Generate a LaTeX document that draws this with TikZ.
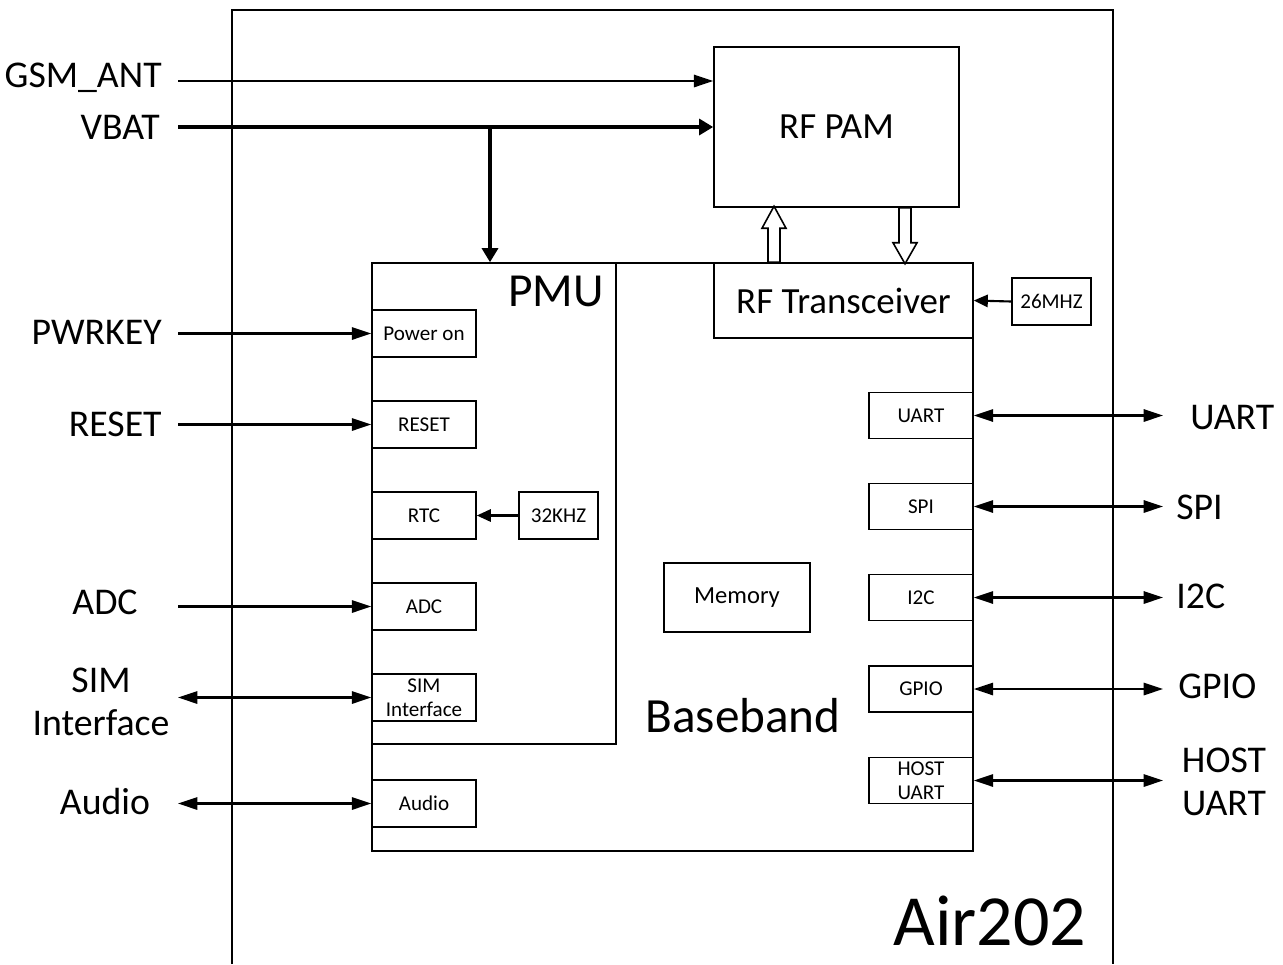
\documentclass[tikz,border=0pt]{standalone}
\usepackage{fontspec}
\setmainfont{Carlito}
\usetikzlibrary{arrows.meta}

\newcommand{\fsz}[2]{\fontsize{#1}{#2}\selectfont}

\begin{document}
\begin{tikzpicture}[x=0.02cm, y=-0.02cm,
	box/.style={draw, line width=0.9pt, fill=white, inner sep=0pt},
	sbox/.style={box, minimum width=2.08cm, minimum height=0.94cm, font=\fsz{12}{13.7}, align=center},
	lbl/.style={font=\fsz{21.5}{24.5}, align=center, inner sep=0pt},
	sig/.style={line width=1.2pt, -{Triangle[length=11pt,width=7pt]}},
	clk/.style={line width=1.2pt, -{Triangle[length=8pt,width=7pt]}},
	both/.style={line width=1.2pt, {Triangle[length=11pt,width=7pt]}-{Triangle[length=11pt,width=7pt]}},
	pwr/.style={line width=2.6pt, -{Triangle[length=8pt,width=9pt]}},
	hollow/.style={draw, line width=0.9pt, fill=white, line join=miter}]
	\useasboundingbox (0,0) rectangle (1283,964);

	% module outline, open at the bottom
	\draw[line width=0.9pt] (232,964) -- (232,10) -- (1113,10) -- (1113,964);
	\node[font=\fsz{41}{46}, inner sep=0pt] (air) at (990,921) {Air202};

	% baseband and pmu
	\node[box, minimum width=12.02cm, minimum height=11.76cm] (bb) at (672.5,557) {};
	\node[box, minimum width=4.88cm, minimum height=9.62cm] (pmu) at (494,503.5) {};
	\node[font=\fsz{27}{30}, inner sep=0pt] (pmulbl) at (556,291) {PMU};
	\node[font=\fsz{28}{32}, inner sep=0pt] (bblbl) at (743,716) {Baseband};
	\node[box, minimum width=2.92cm, minimum height=1.38cm, font=\fsz{14}{16}] (mem) at (737,597.5) {Memory};

	% rf part
	\node[box, minimum width=4.9cm, minimum height=3.2cm, font=\fsz{21}{25}] (pam) at (836.5,127) {RF PAM};
	\node[box, minimum width=5.18cm, minimum height=1.5cm, font=\fsz{21}{25}] (trx) at (843.5,300.5) {RF Transceiver};
	\node[sbox, minimum width=1.58cm, font=\fsz{12}{13.7}] (osc26) at (1051.5,301.5) {26MHZ};
	\draw[clk] (osc26.west) -- (trx.east);

	\coordinate (upx) at (774,0);
	\coordinate (dnx) at (905,0);
	\draw[hollow] (upx |- trx.north) ++(-6,0) -- ++(0,-34) -- ++(-6,0) -- ++(12,-22)
		-- ++(12,22) -- ++(-6,0) -- ++(0,34) -- cycle;
	\draw[hollow] (dnx |- pam.south) ++(-6,0) -- ++(0,35) -- ++(-6,0) -- ++(12,21)
		-- ++(12,-21) -- ++(-6,0) -- ++(0,-35) -- cycle;

	% pmu blocks
	\foreach \n/\y/\t in {pwron/333.5/Power on, rst/424.5/RESET, rtc/515.5/RTC,
		adc/606.5/ADC, sim/697.5/{SIM\\Interface}, audio/803.5/Audio} {
		\node[sbox] (\n) at (424,\y) {\t};
	}
	\node[sbox, minimum width=1.58cm] (osc32) at (558.5,515.5) {32KHZ};
	\draw[clk] (osc32.west) -- (rtc.east);

	% baseband interfaces
	\foreach \n/\y/\t in {uart/415.5/UART, spi/506.5/SPI, i2c/597.5/I2C,
		gpio/689/GPIO, host/780.5/{HOST\\UART}} {
		\node[sbox, minimum height=0.92cm] (\n) at (921,\y) {\t};
	}

	% pins on the left
	\coordinate (inx) at (178,0);
	\coordinate (outx) at (1163,0);
	\coordinate (gsm) at (178,81);
	\coordinate (vbat) at (178,127);
	\coordinate (vbr) at (490,127);
	\node[lbl, anchor=base east] (lgsm) at (162,87) {GSM\_ANT};
	\node[lbl, anchor=base east] (lvbat) at (160,139) {VBAT};
	\node[lbl, anchor=base east] (lpwr) at (162,344) {PWRKEY};
	\node[lbl, anchor=base east] (lrst) at (162,436) {RESET};
	\node[lbl, anchor=base] (ladc) at (105,614) {ADC};
	\node[lbl] (lsim) at (101,702) {SIM\\Interface};
	\node[lbl, anchor=base] (laudio) at (105,814) {Audio};

	\draw[sig] (gsm) -- (gsm -| pam.west);
	\draw[pwr] (vbat) -- (pam.west);
	\draw[pwr] (vbr) -- (vbr |- pmu.north);
	\foreach \n in {pwron,rst,adc} {
		\draw[sig] (inx |- \n.west) -- (\n.west);
	}
	\foreach \n in {sim,audio} {
		\draw[both] (inx |- \n.west) -- (\n.west);
	}

	% pins on the right
	\foreach \n in {uart,spi,i2c,gpio,host} {
		\draw[both] (\n.east) -- (outx |- \n.east);
	}
	\node[lbl, anchor=base west] (ruart) at (1190,429) {UART};
	\node[lbl, anchor=base west] (rspi) at (1176,519) {SPI};
	\node[lbl, anchor=base west] (ri2c) at (1176,608) {I2C};
	\node[lbl, anchor=base west] (rgpio) at (1178,698) {GPIO};
	\node[lbl] (rhost) at (1224,782) {HOST\\UART};
\end{tikzpicture}
\end{document}
